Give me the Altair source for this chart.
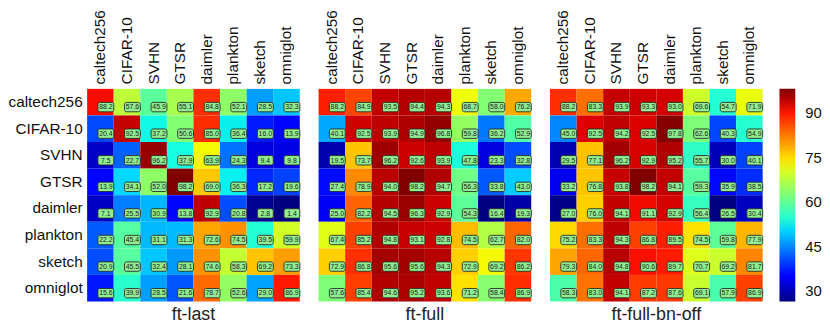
import altair as alt
import numpy as np
import pandas as pd

datasets = ["caltech256", "CIFAR-10", "SVHN", "GTSR", "daimler", "plankton", "sketch", "omniglot"]

titles = ["ft-last", "ft-full", "ft-full-bn-off"]

ft_last = [
    [88.2, 57.6, 45.9, 55.1, 84.8, 52.1, 28.5, 32.3],
    [20.4, 92.5, 37.2, 50.6, 85.0, 36.4, 16.0, 13.9],
    [7.5, 22.7, 96.2, 37.9, 63.9, 24.3, 9.4, 9.8],
    [13.9, 34.1, 52.0, 98.2, 69.0, 36.3, 17.2, 19.6],
    [7.1, 25.5, 30.9, 13.8, 92.9, 20.8, 2.8, 1.4],
    [22.2, 45.4, 31.1, 31.3, 72.6, 74.5, 39.5, 59.9],
    [20.9, 45.5, 32.4, 28.1, 74.6, 58.3, 69.2, 73.3],
    [15.6, 39.9, 28.5, 21.6, 78.7, 52.6, 29.0, 86.9],
]

ft_full = [
    [88.2, 84.9, 93.5, 94.4, 94.3, 68.7, 58.0, 76.2],
    [40.1, 92.5, 93.9, 94.9, 96.8, 59.8, 36.2, 52.9],
    [19.5, 73.7, 96.2, 92.6, 93.9, 47.8, 23.3, 32.8],
    [27.4, 78.9, 94.0, 98.2, 94.7, 56.3, 33.8, 43.0],
    [25.0, 82.2, 94.5, 96.3, 92.9, 54.3, 16.4, 19.3],
    [67.4, 85.2, 94.8, 93.1, 92.8, 74.5, 62.7, 82.0],
    [72.9, 86.8, 95.6, 95.6, 94.3, 72.9, 69.2, 86.2],
    [57.6, 85.4, 94.6, 95.2, 93.6, 71.2, 58.4, 86.9],
]

ft_full_bn_off = [
    [88.2, 83.3, 93.9, 93.3, 93.0, 69.6, 54.7, 71.9],
    [45.0, 92.5, 94.2, 92.5, 97.8, 62.6, 40.3, 54.9],
    [29.5, 77.1, 96.2, 92.9, 95.2, 55.7, 30.0, 40.1],
    [33.2, 76.8, 93.8, 98.2, 94.1, 59.3, 35.9, 38.5],
    [27.0, 76.0, 94.1, 91.1, 92.9, 56.4, 26.5, 30.4],
    [75.2, 83.3, 94.3, 86.8, 89.5, 74.5, 59.8, 77.9],
    [79.3, 84.0, 94.8, 90.6, 89.7, 70.7, 69.2, 81.7],
    [58.3, 83.0, 94.1, 87.2, 87.6, 69.1, 57.9, 86.9],
]

legend_ticks = [30, 45, 60, 75, 90]

# jet colormap stops (piecewise linear in RGB)
stops = [0, 0.11, 0.125, 0.34, 0.35, 0.375, 0.64, 0.65, 0.66, 0.89, 0.91, 1.0]


def jet_hex(f):
    r = np.interp(f, [0, 0.35, 0.66, 0.89, 1], [0, 0, 1, 1, 0.5])
    g = np.interp(f, [0, 0.125, 0.375, 0.64, 0.91, 1], [0, 0, 1, 1, 0, 0])
    b = np.interp(f, [0, 0.11, 0.34, 0.65, 1], [0.5, 1, 1, 0, 0])
    return "#%02x%02x%02x" % (int(round(r * 255)), int(round(g * 255)), int(round(b * 255)))


jet_colors = [jet_hex(f) for f in stops]

FONT = "Liberation Sans"


def panel(values, title, show_y, show_legend):
    rows = []
    for i, rname in enumerate(datasets):
        for j, cname in enumerate(datasets):
            rows.append({"row": rname, "col": cname, "v": values[i][j]})
    df = pd.DataFrame(rows)
    lo = float(df["v"].min())
    hi = float(df["v"].max())
    domain = [lo + f * (hi - lo) for f in stops]

    x = alt.X(
        "col:N",
        sort=datasets,
        scale=alt.Scale(paddingInner=0, paddingOuter=0),
        axis=alt.Axis(
            orient="top", title=None, labelAngle=-90, ticks=False, domain=False,
            labelFontSize=15.5, labelPadding=5, labelAlign="left", labelBaseline="middle",
            labelColor="#111", labelFont=FONT,
        ),
    )
    if show_y:
        y_axis = alt.Axis(
            title=None, ticks=False, domain=False, labelFontSize=15.5, labelPadding=5,
            labelColor="#111", labelFont=FONT,
        )
    else:
        y_axis = None
    y = alt.Y("row:N", sort=datasets, scale=alt.Scale(paddingInner=0, paddingOuter=0), axis=y_axis)

    if show_legend:
        legend = alt.Legend(
            title=None, values=legend_ticks, gradientLength=215, gradientThickness=16,
            labelFontSize=15, labelOffset=10, offset=17, labelFont=FONT, labelColor="#111",
            gradientStrokeWidth=0, direction="vertical",
        )
    else:
        legend = None

    base = alt.Chart(df).encode(x=x, y=y)
    rect = base.mark_rect().encode(
        color=alt.Color(
            "v:Q",
            scale=alt.Scale(domain=domain, range=jet_colors, interpolate="rgb"),
            legend=legend,
        )
    )
    box = base.mark_rect(
        width=16, height=9.5, cornerRadius=2, fill="#90ee90", stroke="#2a2a2a",
        strokeWidth=0.9, xOffset=5.5, yOffset=5,
    )
    txt = base.mark_text(fontSize=7, dx=5.5, dy=5.3, color="#222", font=FONT).encode(
        text=alt.Text("v:Q", format=".1f")
    )
    return alt.layer(rect, box, txt).properties(
        width=215, height=215,
        title=alt.TitleParams(
            title, orient="bottom", fontSize=18, fontWeight="normal", offset=5,
            font=FONT, color="#222", anchor="middle",
        ),
    )


chart = alt.hconcat(
    panel(ft_last, titles[0], True, False),
    panel(ft_full, titles[1], False, False),
    panel(ft_full_bn_off, titles[2], False, True),
    spacing=18,
).resolve_scale(color="independent").properties(padding=0).configure_view(stroke=None)

chart.save("out.html", embed_options={"renderer": "svg", "actions": False})
